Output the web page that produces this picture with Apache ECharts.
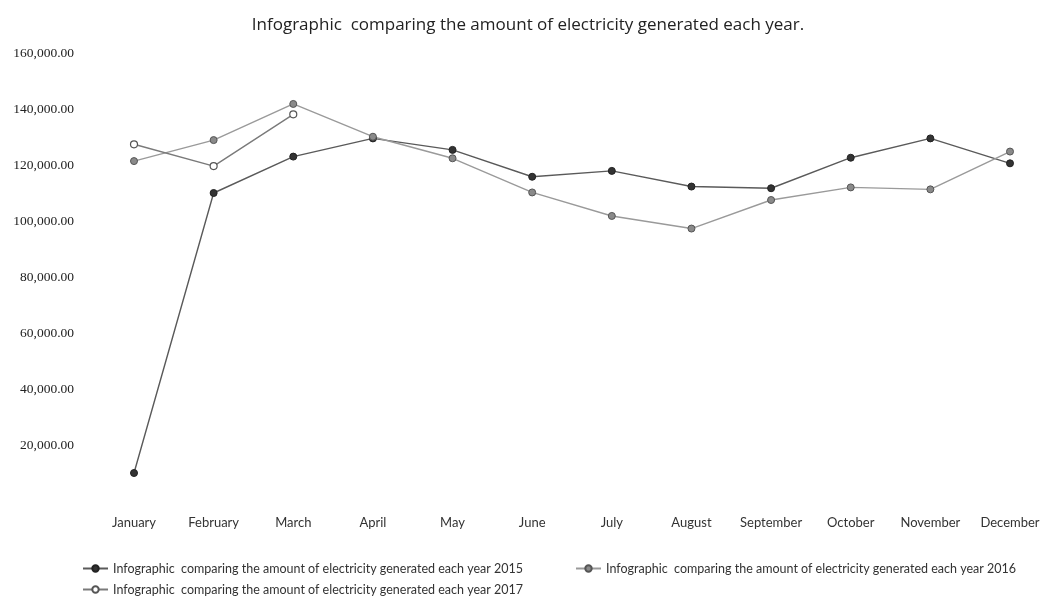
<!DOCTYPE html>
<html>
<head>
<meta charset="utf-8">
<script src="https://cdn.jsdelivr.net/npm/echarts@6/dist/echarts.min.js"></script>
<style>html,body{margin:0;padding:0;background:#fff}#c{width:1056px;height:608px}</style>
</head>
<body>
<div id="c"></div>
<script>
const months = ['January','February','March','April','May','June','July','August','September','October','November','December'];
const yTicks = [0, 20000, 40000, 60000, 80000, 100000, 120000, 140000, 160000];
const name2015 = 'Infographic  comparing the amount of electricity generated each year 2015';
const name2016 = 'Infographic  comparing the amount of electricity generated each year 2016';
const name2017 = 'Infographic  comparing the amount of electricity generated each year 2017';
const values2015 = [10000, 110000, 123000, 129500, 125400, 115800, 117900, 112300, 111700, 122600, 129500, 120600];
const values2016 = [121400, 128900, 141800, 130100, 122400, 110200, 101800, 97300, 107500, 112000, 111300, 124800];
const values2017 = [127400, 119600, 138100, null, null, null, null, null, null, null, null, null];

const chart = echarts.init(document.getElementById('c'), null, {renderer:'canvas'});
const fmt = v => v === 0 ? '' : v.toLocaleString('en-US',{minimumFractionDigits:2, maximumFractionDigits:2});
const legendText = {fontFamily:'Lato, "Open Sans", sans-serif', fontSize:12.5, color:'#333'};
chart.setOption({
  animation:false,
  backgroundColor:'#fff',
  title:{text:'Infographic  comparing the amount of electricity generated each year.', left:'center', top:12,
    textStyle:{fontFamily:'"Open Sans", sans-serif', fontSize:17, fontWeight:'normal', color:'#222'}},
  grid:{left:134, right:46, top:53, bottom:107, outerBoundsMode:'none', containLabel:false},
  xAxis:{type:'category', data:months, boundaryGap:false,
    axisLine:{show:false}, axisTick:{show:false}, splitLine:{show:false},
    axisLabel:{margin:15, fontFamily:'Lato, "Open Sans", sans-serif', fontSize:13, color:'#333', interval:0}},
  yAxis:{type:'value', min:yTicks[0], max:yTicks[yTicks.length-1], interval:yTicks[1]-yTicks[0],
    axisLine:{show:false}, axisTick:{show:false}, splitLine:{show:false},
    axisLabel:{margin:60, formatter:fmt, fontFamily:'"Liberation Serif", serif', fontSize:13.5, color:'#222'}},
  legend:[
    {data:[name2015], left:82, top:562, itemWidth:25, itemHeight:8, itemGap:10, textStyle:legendText, padding:0},
    {data:[name2016], left:575, top:562, itemWidth:25, itemHeight:8, itemGap:10, textStyle:legendText, padding:0},
    {data:[name2017], left:82, top:583, itemWidth:25, itemHeight:8, itemGap:10, textStyle:legendText, padding:0}
  ],
  series:[
    {name:name2015, type:'line', data:values2015, symbol:'circle', symbolSize:7,
      lineStyle:{color:'#5a5a5a', width:1.4}, itemStyle:{color:'#333', borderColor:'#222', borderWidth:1}},
    {name:name2016, type:'line', data:values2016, symbol:'circle', symbolSize:7,
      lineStyle:{color:'#9a9a9a', width:1.4}, itemStyle:{color:'#8a8a8a', borderColor:'#555', borderWidth:1}},
    {name:name2017, type:'line', data:values2017, symbol:'circle', symbolSize:7,
      lineStyle:{color:'#7a7a7a', width:1.4}, itemStyle:{color:'#fff', borderColor:'#555', borderWidth:1.2}}
  ]
});
</script>
</body>
</html>
